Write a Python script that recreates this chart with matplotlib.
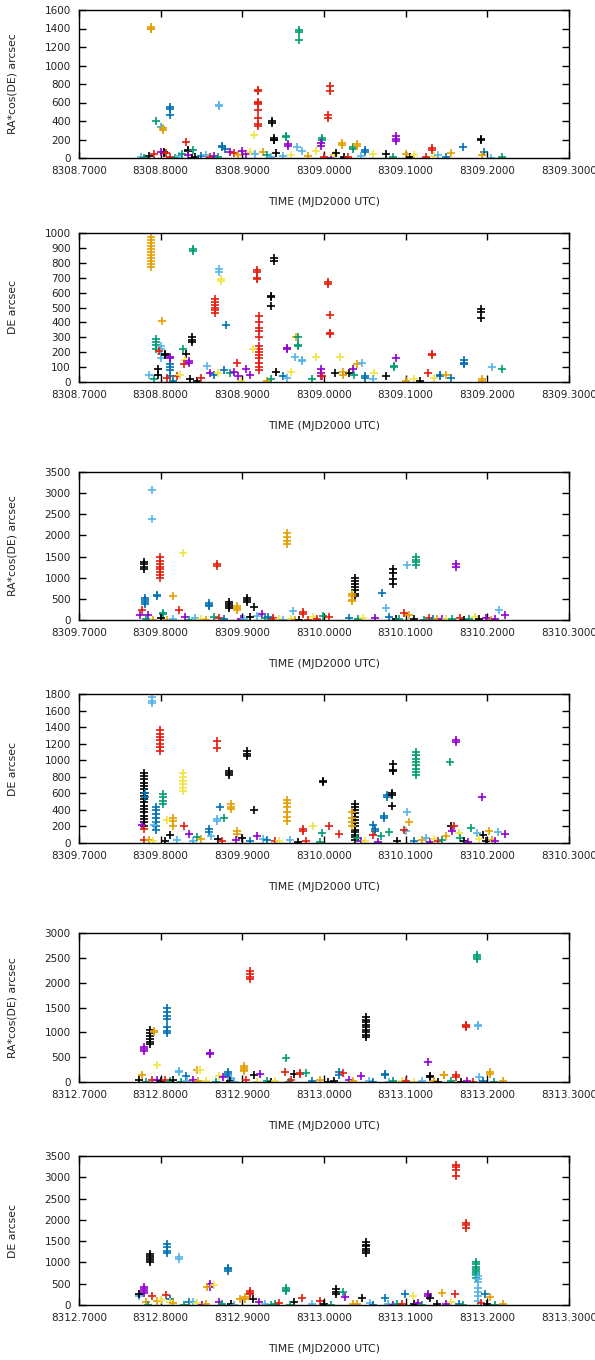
import matplotlib
matplotlib.use("Agg")
import matplotlib.pyplot as plt
import numpy as np

# gnuplot default colour cycle
palette = {'p': '#9400d3', 'g': '#009e73', 'c': '#56b4e9', 'o': '#e69f00',
           'y': '#f0e442', 'b': '#0072b2', 'r': '#e51e10', 'k': '#000000'}

# each entry: (time MJD2000, colour code, [values in arcsec])
ra_1 = [
    (8308.788, 'o', [1420, 1400, 1390]), (8308.794, 'g', [400]), (8308.801, 'c', [340, 330]),
    (8308.803, 'o', [320, 300]), (8308.811, 'b', [550, 530, 470]), (8308.831, 'r', [170]),
    (8308.804, 'k', [60, 55]), (8308.833, 'k', [90, 80]), (8308.839, 'g', [90]),
    (8308.872, 'c', [570, 560]), (8308.875, 'b', [130, 120]), (8308.879, 'b', [100]),
    (8308.919, 'r', [730, 720, 610, 590, 580, 520, 430, 370, 350]), (8308.914, 'y', [250]),
    (8308.936, 'k', [400, 380]), (8308.939, 'k', [220, 200, 190]), (8308.941, 'k', [50]),
    (8308.953, 'g', [240, 230]), (8308.956, 'p', [150, 130]), (8308.969, 'g', [1380, 1360, 1280]),
    (8308.998, 'g', [220, 200]), (8308.996, 'p', [160, 130]), (8309.007, 'r', [780, 720]),
    (8309.005, 'r', [460, 430]),
    (8309.022, 'o', [160, 140]), (8309.036, 'g', [120, 100]), (8309.040, 'o', [150, 130]),
    (8309.050, 'b', [90, 70]), (8309.088, 'p', [240, 210, 180]), (8309.132, 'r', [110, 90]),
    (8309.170, 'b', [120]), (8309.192, 'k', [210, 200]), (8309.196, 'b', [60]),
    (8309.194, 'o', [30]), (8309.218, 'g', [10]),
    (8308.776, 'c', [10]), (8308.780, 'g', [5]), (8308.786, 'k', [20]), (8308.792, 'r', [40]),
    (8308.800, 'p', [70]), (8308.807, 'r', [50]), (8308.812, 'r', [10]), (8308.817, 'g', [5]),
    (8308.822, 'c', [20]), (8308.826, 'g', [40]), (8308.834, 'p', [30]), (8308.838, 'k', [5]),
    (8308.842, 'k', [10]), (8308.850, 'b', [20]), (8308.855, 'c', [30]), (8308.860, 'r', [10]),
    (8308.865, 'p', [20]), (8308.870, 'g', [10]), (8308.885, 'p', [60]), (8308.890, 'r', [50]),
    (8308.895, 'o', [30]), (8308.900, 'p', [80]), (8308.905, 'p', [40]), (8308.910, 'y', [60]),
    (8308.915, 'c', [40]), (8308.925, 'o', [70]), (8308.930, 'g', [30]), (8308.935, 'c', [10]),
    (8308.950, 'c', [20]), (8308.960, 'y', [30]), (8308.967, 'c', [120]), (8308.973, 'c', [80]),
    (8308.980, 'o', [20]), (8308.990, 'y', [80]), (8309.000, 'r', [10]), (8309.008, 'p', [5]),
    (8309.012, 'y', [30]), (8309.015, 'k', [50]), (8309.025, 'k', [10]), (8309.030, 'r', [10]),
    (8309.045, 'c', [20]), (8309.060, 'y', [40]), (8309.076, 'k', [40]), (8309.085, 'g', [10]),
    (8309.100, 'o', [40]), (8309.105, 'k', [10]), (8309.110, 'y', [30]), (8309.125, 'r', [10]),
    (8309.135, 'y', [20]), (8309.140, 'c', [30]), (8309.150, 'b', [10]), (8309.155, 'o', [50]),
    (8309.205, 'c', [5]),
]

de_1 = [
    (8308.788, 'o', [970, 950, 930, 910, 890, 870, 850, 830, 810, 790, 770]),
    (8308.802, 'o', [410]), (8308.794, 'g', [290, 270, 250, 220]), (8308.786, 'c', [50]),
    (8308.792, 'g', [20]), (8308.800, 'c', [240, 220, 190, 160]), (8308.798, 'r', [210]),
    (8308.805, 'k', [190, 180]), (8308.797, 'k', [90, 50]), (8308.811, 'b', [120, 100, 80, 40]),
    (8308.812, 'p', [170, 160]), (8308.827, 'g', [220]), (8308.831, 'k', [190]),
    (8308.830, 'y', [150]), (8308.828, 'r', [120]), (8308.835, 'p', [140, 130]),
    (8308.839, 'g', [890, 880]), (8308.838, 'k', [300, 280, 270]),
    (8308.866, 'r', [560, 540, 520, 500, 480, 460]), (8308.872, 'c', [760, 740]),
    (8308.874, 'y', [690, 680]), (8308.880, 'b', [380]), (8308.918, 'r', [750, 740, 700, 690]),
    (8308.920, 'r', [440, 400, 360, 340, 300, 240, 220, 200, 180, 160, 130, 100, 80]),
    (8308.913, 'y', [220]), (8308.893, 'r', [130]), (8308.939, 'k', [830, 810]),
    (8308.935, 'k', [580, 570, 510]), (8308.941, 'k', [70]), (8308.955, 'p', [230, 220]),
    (8308.966, 'o', [300]), (8308.968, 'g', [300, 250, 240]), (8308.964, 'c', [170]),
    (8308.973, 'c', [150, 140]), (8308.960, 'y', [70]), (8309.005, 'r', [670, 660]),
    (8309.007, 'r', [450, 330, 320]),
    (8308.990, 'y', [170]), (8309.020, 'y', [170]), (8308.996, 'p', [90, 60, 40]),
    (8309.013, 'k', [60]), (8309.031, 'k', [60]), (8309.023, 'o', [70, 50]), (8309.036, 'p', [90]),
    (8309.037, 'g', [50]), (8309.040, 'o', [120]), (8309.047, 'c', [130]), (8309.050, 'b', [40, 30]),
    (8309.061, 'y', [60]), (8309.076, 'k', [40]), (8309.088, 'p', [160]), (8309.086, 'g', [110, 100]),
    (8309.132, 'r', [190, 180]), (8309.127, 'r', [60]), (8309.142, 'b', [50, 40]),
    (8309.171, 'b', [150, 130, 120]), (8309.192, 'k', [490, 470, 430]), (8309.206, 'c', [100]),
    (8309.218, 'g', [90]), (8309.194, 'o', [20, 10]),
    (8308.808, 'r', [30]), (8308.815, 'b', [10]), (8308.820, 'r', [40]), (8308.824, 'y', [50]),
    (8308.836, 'k', [20]), (8308.845, 'k', [10]), (8308.850, 'r', [30]), (8308.857, 'c', [110]),
    (8308.860, 'p', [60]), (8308.865, 'b', [50]), (8308.870, 'y', [60]), (8308.878, 'b', [80]),
    (8308.885, 'g', [60]), (8308.890, 'p', [70]), (8308.895, 'p', [40]), (8308.898, 'y', [10]),
    (8308.905, 'p', [90]), (8308.910, 'p', [50]), (8308.930, 'o', [10]), (8308.935, 'g', [20]),
    (8308.950, 'b', [40]), (8308.955, 'c', [30]), (8308.985, 'g', [20]), (8308.998, 'r', [40]),
    (8309.060, 'c', [20]), (8309.100, 'o', [10]), (8309.110, 'y', [20]), (8309.118, 'k', [10]),
    (8309.135, 'y', [30]), (8309.150, 'o', [50]), (8309.155, 'b', [30]),
]

ra_2 = [
    (8309.789, 'c', [3080, 2400]), (8309.779, 'k', [1380, 1320, 1260, 1200]),
    (8309.781, 'b', [530, 480, 420, 380]),
    (8309.799, 'r', [1480, 1400, 1330, 1260, 1200, 1130, 1060, 1000]),
    (8309.795, 'b', [590, 570]), (8309.827, 'y', [1590]), (8309.815, 'o', [560]),
    (8309.823, 'r', [240]), (8309.803, 'g', [170, 150]), (8309.777, 'r', [240]),
    (8309.775, 'p', [110]), (8309.785, 'p', [110]), (8309.869, 'r', [1330, 1280]),
    (8309.859, 'b', [400, 350, 320]), (8309.884, 'k', [420, 380, 330, 280]),
    (8309.894, 'o', [330, 280, 230]), (8309.906, 'k', [520, 470, 420]), (8309.914, 'k', [310]),
    (8309.955, 'o', [2060, 1960, 1880, 1790]), (8309.924, 'p', [150]), (8309.918, 'c', [100]),
    (8309.938, 'r', [40, 20]), (8309.962, 'c', [220]), (8309.974, 'r', [190, 150]),
    (8310.038, 'k', [1000, 920, 860, 780, 700, 620, 560]), (8310.034, 'o', [620, 560, 480, 440]),
    (8310.071, 'b', [640]), (8310.076, 'c', [290]), (8310.084, 'k', [1200, 1100, 960, 860]),
    (8310.102, 'c', [1300]), (8310.113, 'g', [1480, 1420, 1360, 1300]),
    (8310.162, 'p', [1330, 1260]), (8310.098, 'r', [160]), (8310.104, 'o', [130]),
    (8310.214, 'c', [230]), (8310.222, 'p', [110]),
    (8309.782, 'g', [20]), (8309.790, 'o', [10]), (8309.800, 'k', [40]), (8309.808, 'o', [10]),
    (8309.815, 'c', [30]), (8309.830, 'p', [60]), (8309.835, 'g', [10]), (8309.842, 'c', [50]),
    (8309.850, 'y', [20]), (8309.855, 'o', [10]), (8309.865, 'g', [60]), (8309.872, 'r', [40]),
    (8309.878, 'b', [30]), (8309.898, 'p', [20]), (8309.902, 'c', [30]), (8309.910, 'k', [60]),
    (8309.928, 'g', [40]), (8309.932, 'b', [60]), (8309.945, 'y', [20]), (8309.950, 'c', [10]),
    (8309.960, 'y', [30]), (8309.965, 'o', [10]), (8309.970, 'k', [10]), (8309.980, 'r', [10]),
    (8309.986, 'y', [60]), (8309.992, 'r', [20]), (8309.999, 'g', [100]), (8310.006, 'r', [80]),
    (8310.031, 'b', [40]), (8310.042, 'g', [30]), (8310.048, 'y', [40]), (8310.062, 'p', [50]),
    (8310.080, 'b', [60]), (8310.088, 'k', [20]), (8310.092, 'g', [30]), (8310.110, 'k', [30]),
    (8310.122, 'g', [10]), (8310.128, 'r', [40]), (8310.133, 'b', [20]), (8310.138, 'o', [30]),
    (8310.144, 'p', [20]), (8310.150, 'y', [30]), (8310.157, 'g', [20]), (8310.166, 'r', [40]),
    (8310.172, 'k', [10]), (8310.178, 'g', [30]), (8310.185, 'y', [60]), (8310.190, 'k', [20]),
    (8310.198, 'p', [40]), (8310.205, 'o', [10]), (8310.210, 'p', [30]),
]

de_2 = [
    (8309.789, 'c', [1760, 1720, 1690]), (8309.799, 'r', [1360, 1320, 1280, 1240, 1200, 1160, 1110]),
    (8309.869, 'r', [1230, 1150]), (8309.884, 'k', [870, 850, 820]),
    (8309.906, 'k', [1110, 1070, 1050]),
    (8309.779, 'k', [850, 810, 770, 730, 690, 650, 610, 570, 530, 490, 450, 410, 370, 330,
                     290, 250, 210]),
    (8309.781, 'b', [600, 560]), (8309.803, 'g', [590, 550, 510, 470]),
    (8309.794, 'b', [440, 400, 350, 300, 250, 200, 160]),
    (8309.827, 'y', [850, 800, 750, 710, 670, 630]), (8309.777, 'p', [220]),
    (8309.779, 'r', [170]), (8309.815, 'o', [300, 260, 200]), (8309.808, 'y', [280]),
    (8309.792, 'c', [220]), (8309.859, 'b', [170, 130]), (8309.829, 'r', [200]),
    (8309.886, 'o', [470, 440, 410]), (8309.914, 'k', [400]), (8309.873, 'b', [430]),
    (8309.869, 'c', [290, 270]), (8309.878, 'g', [300]), (8309.894, 'o', [150, 110]),
    (8309.955, 'o', [520, 480, 430, 380, 320, 270]), (8309.999, 'k', [750, 740]),
    (8309.974, 'r', [170, 140]), (8309.986, 'y', [210]), (8310.006, 'r', [200]),
    (8309.998, 'g', [120]),
    (8310.038, 'k', [470, 440, 400, 360, 320, 280, 240, 200, 160, 130, 100, 70, 40]),
    (8310.034, 'o', [380, 300, 250, 200]), (8310.060, 'b', [220]), (8310.063, 'b', [170, 150]),
    (8310.060, 'r', [100]), (8310.077, 'b', [580, 550]), (8310.085, 'k', [960, 880, 870]),
    (8310.083, 'k', [610, 580, 450]), (8310.074, 'b', [330, 300]), (8310.102, 'c', [370]),
    (8310.104, 'o', [250]), (8310.101, 'c', [140]), (8310.098, 'r', [160]), (8310.080, 'g', [130]),
    (8310.113, 'g', [1100, 1060, 1020, 980, 940, 900, 860, 820]), (8310.154, 'g', [980]),
    (8310.162, 'p', [1250, 1220]), (8310.194, 'p', [550]), (8310.156, 'k', [200]),
    (8310.159, 'r', [200]), (8310.157, 'p', [150]), (8310.180, 'g', [180]),
    (8310.165, 'y', [120]), (8310.187, 'c', [120]), (8310.202, 'o', [140]),
    (8310.213, 'c', [130]), (8310.222, 'p', [110]), (8310.195, 'k', [100]),
    (8309.780, 'r', [40]), (8309.786, 'o', [40]), (8309.790, 'y', [20]), (8309.805, 'k', [30]),
    (8309.812, 'k', [100]), (8309.820, 'c', [40]), (8309.835, 'p', [110]), (8309.840, 'c', [30]),
    (8309.845, 'g', [70]), (8309.850, 'o', [50]), (8309.862, 'c', [90]), (8309.870, 'k', [50]),
    (8309.875, 'r', [20]), (8309.892, 'p', [40]), (8309.900, 'k', [60]), (8309.910, 'b', [20]),
    (8309.918, 'p', [80]), (8309.925, 'c', [50]), (8309.930, 'b', [40]), (8309.940, 'r', [30]),
    (8309.945, 'y', [20]), (8309.958, 'c', [40]), (8309.968, 'k', [10]), (8309.978, 'r', [30]),
    (8309.995, 'g', [10]), (8310.018, 'r', [110]), (8310.040, 'g', [60]), (8310.045, 'p', [30]),
    (8310.050, 'y', [20]), (8310.066, 'p', [10]), (8310.070, 'g', [90]), (8310.090, 'k', [20]),
    (8310.110, 'b', [20]), (8310.120, 'o', [40]), (8310.125, 'c', [60]), (8310.130, 'p', [10]),
    (8310.135, 'y', [50]), (8310.140, 'r', [20]), (8310.145, 'g', [40]), (8310.150, 'o', [80]),
    (8310.166, 'g', [60]), (8310.172, 'k', [30]), (8310.176, 'p', [10]), (8310.190, 'y', [50]),
    (8310.198, 'k', [20]), (8310.206, 'o', [40]), (8310.210, 'p', [20]),
]

ra_3 = [
    (8312.780, 'p', [700, 660, 630]), (8312.787, 'k', [1050, 990, 930, 870, 810, 760]),
    (8312.792, 'o', [1030, 1010]), (8312.808, 'b', [1480, 1400, 1330, 1260, 1100, 1030, 980]),
    (8312.796, 'y', [340]), (8312.860, 'p', [580, 560]), (8312.822, 'c', [230, 200]),
    (8312.844, 'o', [240]), (8312.848, 'y', [240]), (8312.831, 'b', [130]),
    (8312.883, 'b', [200, 160, 120]), (8312.886, 'c', [80, 50]), (8312.902, 'o', [330, 290, 250, 220]),
    (8312.910, 'r', [2230, 2180, 2120, 2070]), (8312.914, 'k', [150]), (8312.922, 'p', [160]),
    (8312.953, 'g', [480]), (8312.952, 'r', [210]), (8312.963, 'k', [160]),
    (8312.971, 'r', [180, 170]), (8312.978, 'g', [190]),
    (8313.051, 'k', [1300, 1250, 1200, 1150, 1100, 1050, 1000, 950, 900]),
    (8313.127, 'p', [400]), (8313.174, 'r', [1150, 1120, 1100]), (8313.189, 'c', [1150, 1130]),
    (8313.187, 'g', [2560, 2520, 2480]), (8313.203, 'o', [200, 170]), (8313.018, 'b', [200, 150]),
    (8313.023, 'r', [180]), (8313.075, 'b', [170, 140]), (8313.130, 'k', [120, 100]),
    (8313.147, 'o', [150, 140]), (8313.162, 'r', [150, 110]), (8313.190, 'c', [110]),
    (8312.777, 'o', [150]), (8312.774, 'k', [40]), (8312.782, 'g', [10]), (8312.789, 'r', [50]),
    (8312.795, 'p', [40]), (8312.800, 'k', [30]), (8312.805, 'r', [50]), (8312.812, 'g', [20]),
    (8312.815, 'k', [50]), (8312.825, 'g', [10]), (8312.832, 'c', [20]), (8312.840, 'p', [40]),
    (8312.846, 'o', [20]), (8312.856, 'y', [30]), (8312.868, 'g', [10]), (8312.872, 'y', [130]),
    (8312.876, 'p', [110]), (8312.885, 'k', [20]), (8312.890, 'c', [10]), (8312.905, 'r', [40]),
    (8312.918, 'y', [10]), (8312.930, 'g', [20]), (8312.935, 'k', [10]), (8312.940, 'y', [30]),
    (8312.957, 'g', [10]), (8312.960, 'r', [40]), (8312.985, 'b', [20]), (8312.995, 'o', [40]),
    (8313.005, 'k', [10]), (8313.012, 'k', [20]), (8313.030, 'p', [50]), (8313.035, 'o', [20]),
    (8313.045, 'p', [130]), (8313.055, 'c', [20]), (8313.060, 'b', [10]), (8313.080, 'c', [10]),
    (8313.085, 'g', [20]), (8313.095, 'y', [30]), (8313.100, 'r', [20]), (8313.110, 'y', [10]),
    (8313.120, 'c', [20]), (8313.135, 'o', [30]), (8313.140, 'k', [10]), (8313.155, 'g', [20]),
    (8313.168, 'k', [10]), (8313.175, 'p', [20]), (8313.182, 'r', [10]), (8313.195, 'b', [20]),
    (8313.208, 'g', [10]), (8313.219, 'o', [20]),
]

de_3 = [
    (8312.787, 'k', [1200, 1150, 1100, 1050, 1000]), (8312.808, 'b', [1430, 1360, 1280, 1220]),
    (8312.823, 'c', [1120, 1080]), (8312.780, 'p', [420, 380, 330, 280]),
    (8312.774, 'c', [230, 210]), (8312.773, 'k', [260]), (8312.789, 'r', [200]),
    (8312.806, 'r', [240]), (8312.812, 'b', [150]), (8312.860, 'p', [500, 430]),
    (8312.857, 'o', [430]), (8312.865, 'y', [470]), (8312.883, 'b', [880, 840, 800]),
    (8312.910, 'r', [330, 290, 260]), (8312.903, 'o', [180, 140]), (8312.913, 'k', [130]),
    (8312.953, 'g', [400, 350, 320]), (8312.963, 'k', [60]), (8312.973, 'r', [160]),
    (8313.051, 'k', [1480, 1420, 1380, 1320, 1280, 1230]), (8313.015, 'k', [370, 300, 260]),
    (8313.023, 'g', [300]), (8313.026, 'p', [180]), (8313.046, 'k', [160]),
    (8313.075, 'b', [160]), (8313.099, 'b', [260]), (8313.109, 'y', [220]),
    (8313.127, 'p', [270, 200]), (8313.130, 'k', [160]), (8313.144, 'o', [280]),
    (8313.162, 'r', [3300, 3250, 3180, 3040]), (8313.174, 'r', [1930, 1880, 1820]),
    (8313.186, 'g', [1000, 960, 900, 850, 800, 750, 700, 640]),
    (8313.189, 'c', [680, 620, 550, 400, 300, 200, 100]), (8313.197, 'b', [260]),
    (8313.203, 'o', [180]), (8313.160, 'r', [260]),
    (8312.782, 'o', [60]), (8312.785, 'g', [10]), (8312.795, 'o', [100]), (8312.800, 'y', [120]),
    (8312.812, 'y', [80]), (8312.815, 'o', [40]), (8312.828, 'g', [10]), (8312.835, 'b', [80]),
    (8312.840, 'c', [70]), (8312.845, 'y', [40]), (8312.850, 'p', [10]), (8312.855, 'o', [20]),
    (8312.872, 'p', [80]), (8312.875, 'g', [20]), (8312.886, 'k', [30]), (8312.890, 'c', [10]),
    (8312.897, 'o', [150]), (8312.920, 'p', [60]), (8312.928, 'c', [20]), (8312.935, 'g', [10]),
    (8312.940, 'g', [30]), (8312.945, 'r', [40]), (8312.958, 'g', [10]), (8312.985, 'c', [20]),
    (8312.995, 'r', [100]), (8313.000, 'k', [20]), (8313.008, 'g', [10]), (8313.035, 'o', [30]),
    (8313.040, 'o', [20]), (8313.056, 'c', [40]), (8313.060, 'b', [10]), (8313.078, 'c', [30]),
    (8313.085, 'p', [10]), (8313.090, 'g', [20]), (8313.095, 'r', [30]), (8313.110, 'k', [20]),
    (8313.115, 'p', [40]), (8313.120, 'g', [10]), (8313.138, 'k', [30]), (8313.150, 'p', [20]),
    (8313.155, 'y', [60]), (8313.165, 'b', [30]), (8313.170, 'g', [10]), (8313.192, 'r', [40]),
    (8313.200, 'k', [20]), (8313.210, 'g', [10]), (8313.219, 'o', [30]),
]

panels = [
    (ra_1, 8308.7, 1600, 200, 'RA*cos(DE) arcsec', 10, 158),
    (de_1, 8308.7, 1000, 100, 'DE arcsec', 233, 382),
    (ra_2, 8309.7, 3500, 500, 'RA*cos(DE) arcsec', 472, 620),
    (de_2, 8309.7, 1800, 200, 'DE arcsec', 694, 843),
    (ra_3, 8312.7, 3000, 500, 'RA*cos(DE) arcsec', 933, 1082),
    (de_3, 8312.7, 3500, 500, 'DE arcsec', 1156, 1305),
]

W, H = 595, 1360
fig = plt.figure(figsize=(W / 100, H / 100), dpi=100)
txt = '#222222'

for pts, x0, ymax, ystep, ylab, top, bot in panels:
    ax = fig.add_axes([79 / W, 1 - bot / H, 490 / W, (bot - top) / H])
    for t, c, vals in pts:
        ax.plot([t] * len(vals), vals, linestyle='none', marker='+', markersize=6,
                markeredgewidth=1.2, color=palette[c])
    xt = [x0 + 0.1 * k for k in range(7)]
    ax.set_xlim(x0, x0 + 0.6)
    ax.set_ylim(0, ymax)
    ax.set_xticks(xt)
    ax.set_xticklabels(['%.4f' % v for v in xt])
    ax.set_yticks(np.arange(0, ymax + 1, ystep))
    ax.tick_params(direction='in', top=True, right=True, length=5, width=1,
                   labelsize=7.5, labelcolor=txt, pad=6)
    for s in ax.spines.values():
        s.set_linewidth(1)
    ax.set_xlabel('TIME (MJD2000 UTC)', fontsize=7.8, color=txt, labelpad=15)
    fig.text(13 / W, 1 - (top + bot) / 2 / H, ylab, rotation=90, fontsize=7.8,
             color=txt, ha='center', va='center')

fig.savefig('out.png', dpi=100)
